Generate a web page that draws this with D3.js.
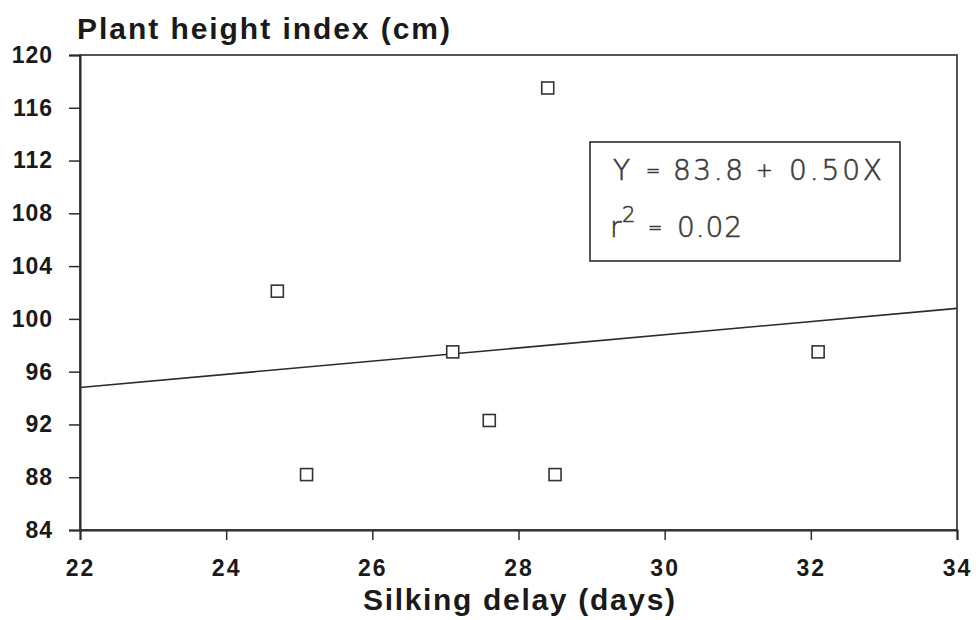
<!DOCTYPE html>
<html>
<head>
<meta charset="utf-8">
<script src="https://cdn.jsdelivr.net/npm/d3@7"></script>
<style>
  html, body { margin: 0; padding: 0; background: #ffffff; }
  svg { display: block; }
</style>
</head>
<body>
<div id="chart"></div>
<script>
// ---- data ----
const silkingDelay = [24.7, 25.1, 27.1, 27.6, 28.4, 28.5, 32.1];
const plantHeight  = [102.1, 88.2, 97.5, 92.3, 117.5, 88.2, 97.5];
const xTicks = [22, 24, 26, 28, 30, 32, 34];
const yTicks = [84, 88, 92, 96, 100, 104, 108, 112, 116, 120];
const regIntercept = 83.8;
const regSlope = 0.50;
const equationParts = ["Y", "=", "83.8", "+", "0.50X"];
const r2Parts = ["r", "2", "=", "0.02"];
const yTitle = "Plant height index (cm)";
const xTitle = "Silking delay (days)";

// ---- layout ----
const W = 979, H = 620;
const m = { left: 80, right: 22, top: 55, bottom: 90 };
const ink = "#2b2b2b";

const svg = d3.select("#chart").append("svg")
  .attr("width", W).attr("height", H);

const x = d3.scaleLinear().domain([22, 34]).range([m.left, W - m.right]);
const y = d3.scaleLinear().domain([84, 120]).range([H - m.bottom, m.top]);

// frame
svg.append("rect")
  .attr("x", x(22)).attr("y", y(120))
  .attr("width", x(34) - x(22)).attr("height", y(84) - y(120))
  .attr("fill", "none").attr("stroke", ink).attr("stroke-width", 1.6);

// axes
const fontTick = "'Liberation Sans', Arial, sans-serif";
const xAxis = svg.append("g")
  .attr("transform", `translate(0,${y(84)})`)
  .call(d3.axisBottom(x).tickValues(xTicks).tickFormat(d3.format("d"))
        .tickSize(10).tickPadding(20));
const yAxis = svg.append("g")
  .attr("transform", `translate(${x(22)},0)`)
  .call(d3.axisLeft(y).tickValues(yTicks).tickFormat(d3.format("d"))
        .tickSize(11).tickPadding(16));

[xAxis, yAxis].forEach(g => {
  g.select(".domain").attr("stroke", ink).attr("stroke-width", 2);
  g.selectAll(".tick line").attr("stroke", ink).attr("stroke-width", 1.5);
  g.selectAll(".tick text")
    .attr("fill", "#1a1a1a")
    .style("font-family", fontTick)
    .style("font-size", "23px")
    .style("font-weight", "bold");
});
xAxis.selectAll(".tick text").style("letter-spacing", "2px");
yAxis.selectAll(".tick text").style("letter-spacing", "1px");

// regression line
const xd = x.domain();
svg.append("line")
  .attr("x1", x(xd[0])).attr("y1", y(regIntercept + regSlope * xd[0]))
  .attr("x2", x(xd[1])).attr("y2", y(regIntercept + regSlope * xd[1]))
  .attr("stroke", ink).attr("stroke-width", 1.6);

// points
const pts = silkingDelay.map((d, i) => ({ x: d, y: plantHeight[i] }));
const s = 12;
svg.append("g").selectAll("rect").data(pts).join("rect")
  .attr("x", d => x(d.x) - s / 2).attr("y", d => y(d.y) - s / 2)
  .attr("width", s).attr("height", s)
  .attr("fill", "#ffffff").attr("stroke", "#333").attr("stroke-width", 1.6);

// titles
svg.append("text")
  .attr("x", 77).attr("y", 39)
  .attr("fill", "#1a1a1a")
  .style("font-family", fontTick)
  .style("font-size", "30px")
  .style("font-weight", "bold")
  .attr("textLength", 373).attr("lengthAdjust", "spacing")
  .text(yTitle);

svg.append("text")
  .attr("x", 363).attr("y", 610)
  .attr("fill", "#1a1a1a")
  .style("font-family", fontTick)
  .style("font-size", "30px")
  .style("font-weight", "bold")
  .attr("textLength", 312).attr("lengthAdjust", "spacing")
  .text(xTitle);

// equation box
const bx0 = 590, by0 = 142;
svg.append("rect")
  .attr("x", bx0).attr("y", by0).attr("width", 310).attr("height", 119)
  .attr("fill", "#ffffff").attr("stroke", ink).attr("stroke-width", 1.6);

const eqFont = "'DejaVu Sans', 'Open Sans', sans-serif";
const eqG = svg.append("g").attr("fill", "#3a3a3a")
  .attr("stroke", "#3a3a3a").attr("stroke-width", 0.6)
  .style("font-family", eqFont).style("font-weight", 200);

const eqLayout = [
  { dx: 23,  w: 0,  fs: 28 },
  { dx: 56,  w: 0,  fs: 17 },
  { dx: 83,  w: 70, fs: 28 },
  { dx: 166, w: 0,  fs: 20 },
  { dx: 199, w: 93, fs: 28 }
];
equationParts.forEach((t, i) => {
  const L = eqLayout[i];
  const el = eqG.append("text")
    .attr("x", bx0 + L.dx).attr("y", by0 + 38 - (L.fs < 28 ? 3 : 0))
    .style("font-size", L.fs + "px").text(t);
  if (L.w) el.attr("textLength", L.w).attr("lengthAdjust", "spacing");
});

const r2Layout = [
  { dx: 20, w: 0,  fs: 28, base: 95 },
  { dx: 32, w: 0,  fs: 21, base: 80 },
  { dx: 58, w: 0,  fs: 17, base: 92 },
  { dx: 87, w: 65, fs: 28, base: 95 }
];
r2Parts.forEach((t, i) => {
  const L = r2Layout[i];
  const el = eqG.append("text")
    .attr("x", bx0 + L.dx).attr("y", by0 + L.base)
    .style("font-size", L.fs + "px").text(t);
  if (L.w) el.attr("textLength", L.w).attr("lengthAdjust", "spacing");
});
</script>
</body>
</html>
